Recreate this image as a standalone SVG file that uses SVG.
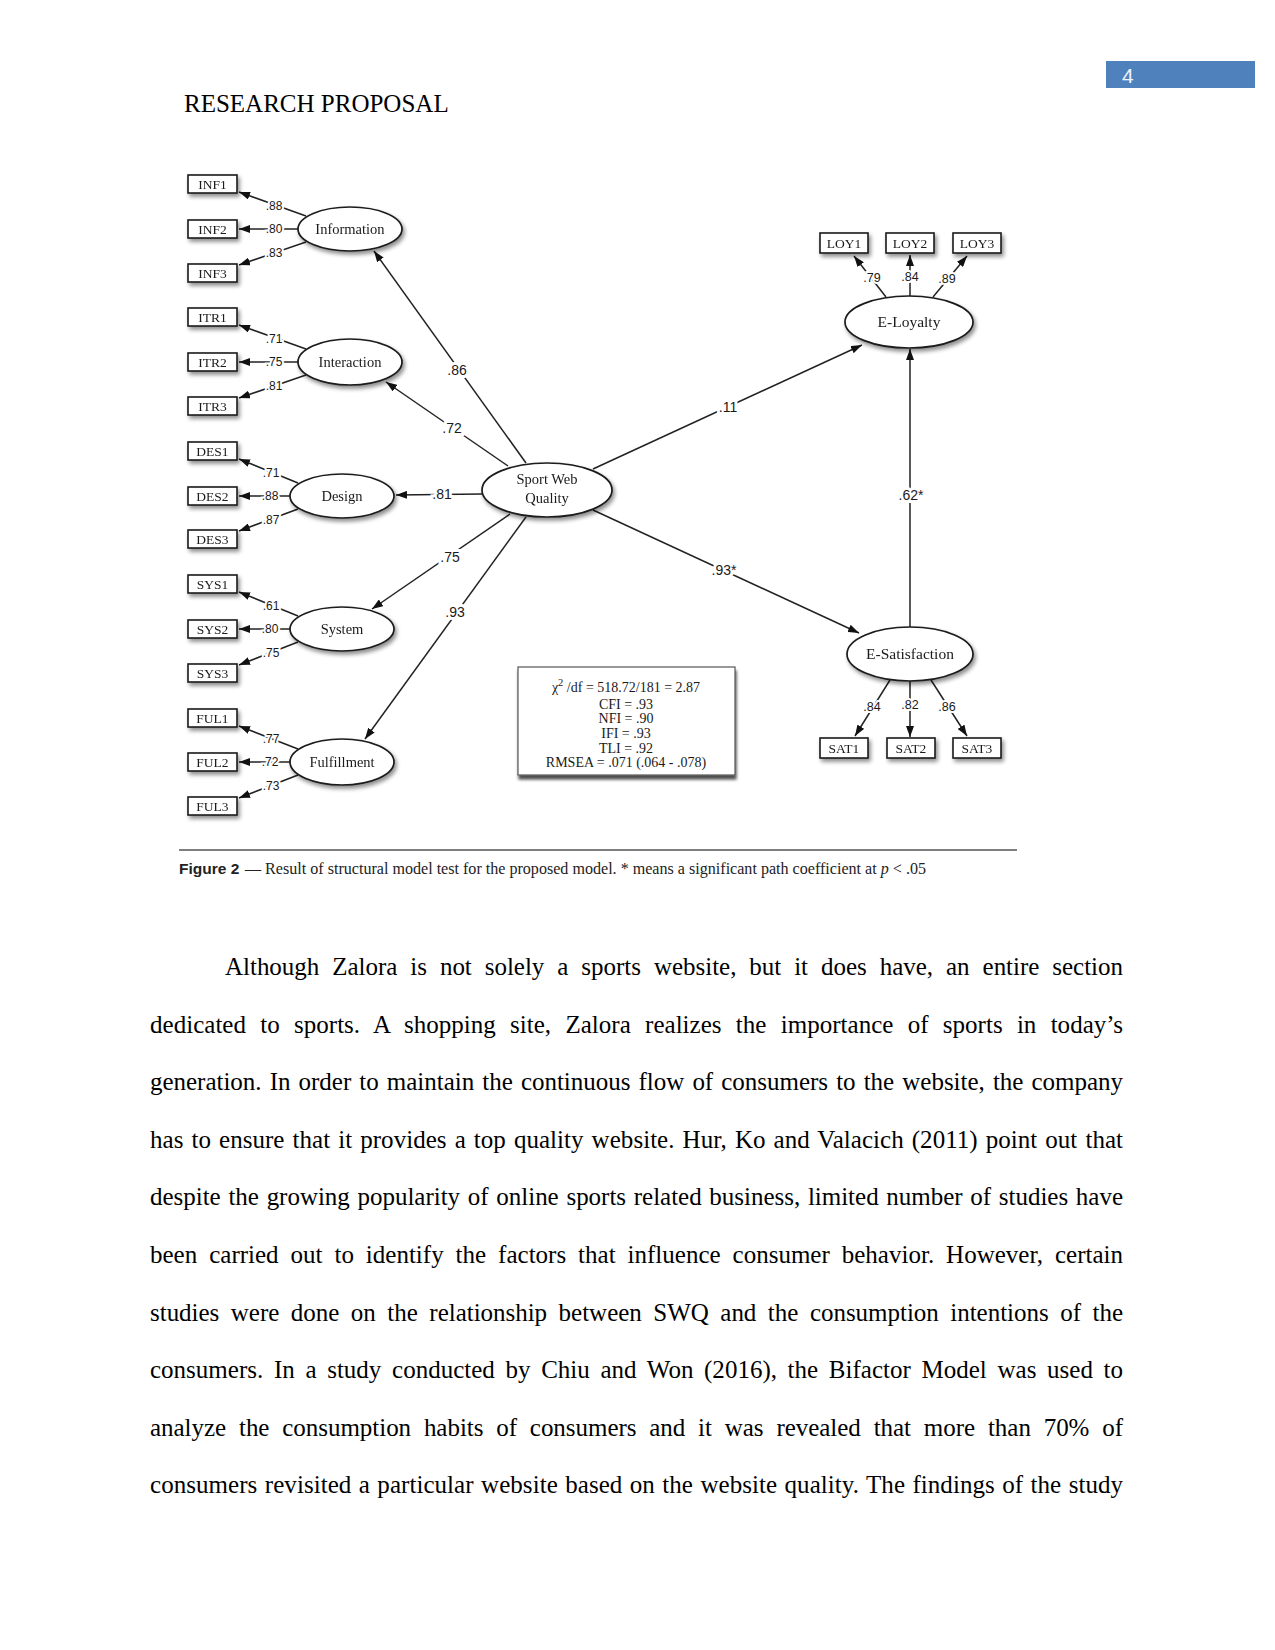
<svg xmlns="http://www.w3.org/2000/svg" width="1275" height="1650" viewBox="0 0 1275 1650">
<defs>
<style>
.ser{font-family:"Liberation Serif","Times New Roman",serif;}
.san{font-family:"Liberation Sans",Arial,sans-serif;}
.box{fill:#fff;stroke:#1a1a1a;stroke-width:1.6;}
.ell{fill:#fff;stroke:#1a1a1a;stroke-width:1.7;}
.bl{font-family:"Liberation Serif",serif;font-size:13.5px;fill:#1a1a1a;text-anchor:middle;}
.el{font-family:"Liberation Serif",serif;font-size:14.5px;fill:#1a1a1a;text-anchor:middle;}
.er{font-family:"Liberation Serif",serif;font-size:15.5px;fill:#1a1a1a;text-anchor:middle;}
.ln{fill:none;stroke:#222;stroke-width:1.5;}
.lab{font-family:"Liberation Sans",Arial,sans-serif;font-size:12px;fill:#1a1a1a;text-anchor:middle;stroke:#fff;stroke-width:4;paint-order:stroke;}
.labm{font-family:"Liberation Sans",Arial,sans-serif;font-size:14px;fill:#1a1a1a;text-anchor:middle;stroke:#fff;stroke-width:6;paint-order:stroke;}
.labr{font-family:"Liberation Sans",Arial,sans-serif;font-size:12.5px;fill:#1a1a1a;text-anchor:middle;stroke:#fff;stroke-width:4;paint-order:stroke;}
.body{font-family:"Liberation Serif","Times New Roman",serif;font-size:25px;fill:#000;}
.fit{font-family:"Liberation Serif",serif;font-size:14px;fill:#1a1a1a;text-anchor:middle;}
</style>
<marker id="ah" viewBox="0 0 11 8" refX="11" refY="4" markerWidth="11" markerHeight="8" markerUnits="userSpaceOnUse" orient="auto">
<path d="M0,0 L11,4 L0,8 z" fill="#111"/>
</marker>
<filter id="sh" x="-20%" y="-30%" width="150%" height="180%">
<feGaussianBlur in="SourceAlpha" stdDeviation="2"/>
<feOffset dx="2" dy="3"/>
<feComponentTransfer><feFuncA type="linear" slope="0.45"/></feComponentTransfer>
<feMerge><feMergeNode/><feMergeNode in="SourceGraphic"/></feMerge>
</filter>
<filter id="sh2" x="-10%" y="-10%" width="125%" height="130%">
<feGaussianBlur in="SourceAlpha" stdDeviation="1.5"/>
<feOffset dx="1" dy="4"/>
<feComponentTransfer><feFuncA type="linear" slope="0.7"/></feComponentTransfer>
<feMerge><feMergeNode/><feMergeNode in="SourceGraphic"/></feMerge>
</filter>
</defs>
<rect width="1275" height="1650" fill="#fff"/>

<!-- page header -->
<g id="page-number">
<rect x="1106" y="61" width="149" height="27" fill="#4f81bd"/>
<text x="1122" y="83" class="san" font-size="21" fill="#eef3fa">4</text>
</g>
<text id="running-head" x="184" y="112" class="ser" font-size="25" fill="#000">RESEARCH PROPOSAL</text>

<!-- connectors -->
<g id="connectors">
<!-- Information loadings -->
<path class="ln" d="M306,216 L239,192" marker-end="url(#ah)"/>
<path class="ln" d="M298,229 L239,229" marker-end="url(#ah)"/>
<path class="ln" d="M306,242 L239,265" marker-end="url(#ah)"/>
<text class="lab" x="274" y="210">.88</text>
<text class="lab" x="274" y="233">.80</text>
<text class="lab" x="274" y="257">.83</text>
<!-- Interaction loadings -->
<path class="ln" d="M306,349 L239,325" marker-end="url(#ah)"/>
<path class="ln" d="M298,362 L239,362" marker-end="url(#ah)"/>
<path class="ln" d="M306,375 L239,398" marker-end="url(#ah)"/>
<text class="lab" x="274" y="343">.71</text>
<text class="lab" x="274" y="366">.75</text>
<text class="lab" x="274" y="390">.81</text>
<!-- Design loadings -->
<path class="ln" d="M298,483 L239,459" marker-end="url(#ah)"/>
<path class="ln" d="M290,496 L239,496" marker-end="url(#ah)"/>
<path class="ln" d="M298,509 L239,531" marker-end="url(#ah)"/>
<text class="lab" x="271" y="477">.71</text>
<text class="lab" x="270" y="500">.88</text>
<text class="lab" x="271" y="524">.87</text>
<!-- System loadings -->
<path class="ln" d="M298,616 L239,592" marker-end="url(#ah)"/>
<path class="ln" d="M290,629 L239,629" marker-end="url(#ah)"/>
<path class="ln" d="M298,642 L239,665" marker-end="url(#ah)"/>
<text class="lab" x="271" y="610">.61</text>
<text class="lab" x="270" y="633">.80</text>
<text class="lab" x="271" y="657">.75</text>
<!-- Fulfillment loadings -->
<path class="ln" d="M298,749 L239,726" marker-end="url(#ah)"/>
<path class="ln" d="M290,762 L239,762" marker-end="url(#ah)"/>
<path class="ln" d="M298,775 L239,798" marker-end="url(#ah)"/>
<text class="lab" x="271" y="743">.77</text>
<text class="lab" x="270" y="766">.72</text>
<text class="lab" x="271" y="790">.73</text>

<!-- structural paths -->
<path class="ln" d="M526,463 L374,251" marker-end="url(#ah)"/>
<path class="ln" d="M508,466 L386,382" marker-end="url(#ah)"/>
<path class="ln" d="M482,494 L396,495" marker-end="url(#ah)"/>
<path class="ln" d="M510,514 L372,609" marker-end="url(#ah)"/>
<path class="ln" d="M526,517 L365,739" marker-end="url(#ah)"/>
<path class="ln" d="M593,469 L862,345" marker-end="url(#ah)"/>
<path class="ln" d="M593,510 L859,633" marker-end="url(#ah)"/>
<path class="ln" d="M910,627 L910,349" marker-end="url(#ah)"/>
<text class="labm" x="457" y="375">.86</text>
<text class="labm" x="452" y="433">.72</text>
<text class="labm" x="442" y="499">.81</text>
<text class="labm" x="450" y="562">.75</text>
<text class="labm" x="455" y="617">.93</text>
<text class="labm" x="728" y="412">.11</text>
<text class="labm" x="724" y="575">.93*</text>
<text class="labm" x="911" y="500">.62*</text>

<!-- E-Loyalty indicators -->
<path class="ln" d="M886,297 L854,256" marker-end="url(#ah)"/>
<path class="ln" d="M910,296 L910,255" marker-end="url(#ah)"/>
<path class="ln" d="M933,297 L967,256" marker-end="url(#ah)"/>
<text class="labr" x="872" y="282">.79</text>
<text class="labr" x="910" y="281">.84</text>
<text class="labr" x="947" y="283">.89</text>
<!-- E-Satisfaction indicators -->
<path class="ln" d="M890,680 L855,736" marker-end="url(#ah)"/>
<path class="ln" d="M910,681 L910,737" marker-end="url(#ah)"/>
<path class="ln" d="M931,680 L967,736" marker-end="url(#ah)"/>
<text class="labr" x="872" y="711">.84</text>
<text class="labr" x="910" y="709">.82</text>
<text class="labr" x="947" y="711">.86</text>
</g>

<!-- indicator boxes -->
<g id="INF1" filter="url(#sh)"><rect class="box" x="188" y="175" width="49" height="18"/><text class="bl" x="212.5" y="188.5">INF1</text></g>
<g id="INF2" filter="url(#sh)"><rect class="box" x="188" y="220" width="49" height="18"/><text class="bl" x="212.5" y="233.5">INF2</text></g>
<g id="INF3" filter="url(#sh)"><rect class="box" x="188" y="264" width="49" height="18"/><text class="bl" x="212.5" y="277.5">INF3</text></g>
<g id="ITR1" filter="url(#sh)"><rect class="box" x="188" y="308" width="49" height="18"/><text class="bl" x="212.5" y="321.5">ITR1</text></g>
<g id="ITR2" filter="url(#sh)"><rect class="box" x="188" y="353" width="49" height="18"/><text class="bl" x="212.5" y="366.5">ITR2</text></g>
<g id="ITR3" filter="url(#sh)"><rect class="box" x="188" y="397" width="49" height="18"/><text class="bl" x="212.5" y="410.5">ITR3</text></g>
<g id="DES1" filter="url(#sh)"><rect class="box" x="188" y="442" width="49" height="18"/><text class="bl" x="212.5" y="455.5">DES1</text></g>
<g id="DES2" filter="url(#sh)"><rect class="box" x="188" y="487" width="49" height="18"/><text class="bl" x="212.5" y="500.5">DES2</text></g>
<g id="DES3" filter="url(#sh)"><rect class="box" x="188" y="530" width="49" height="18"/><text class="bl" x="212.5" y="543.5">DES3</text></g>
<g id="SYS1" filter="url(#sh)"><rect class="box" x="188" y="575" width="49" height="18"/><text class="bl" x="212.5" y="588.5">SYS1</text></g>
<g id="SYS2" filter="url(#sh)"><rect class="box" x="188" y="620" width="49" height="18"/><text class="bl" x="212.5" y="633.5">SYS2</text></g>
<g id="SYS3" filter="url(#sh)"><rect class="box" x="188" y="664" width="49" height="18"/><text class="bl" x="212.5" y="677.5">SYS3</text></g>
<g id="FUL1" filter="url(#sh)"><rect class="box" x="188" y="709" width="49" height="18"/><text class="bl" x="212.5" y="722.5">FUL1</text></g>
<g id="FUL2" filter="url(#sh)"><rect class="box" x="188" y="753" width="49" height="18"/><text class="bl" x="212.5" y="766.5">FUL2</text></g>
<g id="FUL3" filter="url(#sh)"><rect class="box" x="188" y="797" width="49" height="18"/><text class="bl" x="212.5" y="810.5">FUL3</text></g>

<g id="LOY1" filter="url(#sh)"><rect class="box" x="820" y="233" width="48" height="20"/><text class="bl" x="844" y="247.5">LOY1</text></g>
<g id="LOY2" filter="url(#sh)"><rect class="box" x="886" y="233" width="48" height="20"/><text class="bl" x="910" y="247.5">LOY2</text></g>
<g id="LOY3" filter="url(#sh)"><rect class="box" x="953" y="233" width="48" height="20"/><text class="bl" x="977" y="247.5">LOY3</text></g>
<g id="SAT1" filter="url(#sh)"><rect class="box" x="820" y="738" width="48" height="20"/><text class="bl" x="844" y="752.5">SAT1</text></g>
<g id="SAT2" filter="url(#sh)"><rect class="box" x="887" y="738" width="48" height="20"/><text class="bl" x="911" y="752.5">SAT2</text></g>
<g id="SAT3" filter="url(#sh)"><rect class="box" x="953" y="738" width="48" height="20"/><text class="bl" x="977" y="752.5">SAT3</text></g>

<!-- latent factors -->
<g id="Information" filter="url(#sh)"><ellipse class="ell" cx="350" cy="229" rx="52" ry="22"/><text class="el" x="350" y="234">Information</text></g>
<g id="Interaction" filter="url(#sh)"><ellipse class="ell" cx="350" cy="362" rx="52" ry="23"/><text class="el" x="350" y="367">Interaction</text></g>
<g id="Design" filter="url(#sh)"><ellipse class="ell" cx="342" cy="496" rx="52" ry="22"/><text class="el" x="342" y="501">Design</text></g>
<g id="System" filter="url(#sh)"><ellipse class="ell" cx="342" cy="629" rx="52" ry="22"/><text class="el" x="342" y="634">System</text></g>
<g id="Fulfillment" filter="url(#sh)"><ellipse class="ell" cx="342" cy="762" rx="52" ry="23"/><text class="el" x="342" y="767">Fulfillment</text></g>
<g id="SportWebQuality" filter="url(#sh)"><ellipse class="ell" cx="547" cy="490" rx="65" ry="27"/><text class="el" x="547" y="484">Sport Web</text><text class="el" x="547" y="503">Quality</text></g>
<g id="E-Loyalty" filter="url(#sh)"><ellipse class="ell" cx="909" cy="322" rx="64" ry="26"/><text class="er" x="909" y="327">E-Loyalty</text></g>
<g id="E-Satisfaction" filter="url(#sh)"><ellipse class="ell" cx="910" cy="654" rx="63" ry="27"/><text class="er" x="910" y="659">E-Satisfaction</text></g>

<!-- fit indices -->
<g id="fit-box">
<rect x="518" y="667" width="217" height="108" fill="#fff" stroke="#555" stroke-width="1.2" filter="url(#sh2)"/>
<text class="fit" x="626" y="692">χ<tspan dy="-6" font-size="10.5">2</tspan><tspan dy="6"> /df = 518.72/181 = 2.87</tspan></text>
<text class="fit" x="626" y="709">CFI = .93</text>
<text class="fit" x="626" y="723">NFI = .90</text>
<text class="fit" x="626" y="738">IFI = .93</text>
<text class="fit" x="626" y="753">TLI = .92</text>
<text class="fit" x="626" y="767">RMSEA = .071 (.064 - .078)</text>
</g>

<!-- caption -->
<line x1="179" y1="850" x2="1017" y2="850" stroke="#555" stroke-width="1.5"/>
<text x="179" y="874" class="san" font-size="15.5" font-weight="bold" fill="#222">Figure 2</text>
<text x="245" y="874" class="ser" font-size="16" fill="#222" textLength="681" lengthAdjust="spacingAndGlyphs">— Result of structural model test for the proposed model. * means a significant path coefficient at <tspan font-style="italic">p</tspan> &lt; .05</text>

<!-- body text -->
<g id="body-text" class="body">
<text x="225" y="975" word-spacing="6.75" textLength="898" lengthAdjust="spacing">Although Zalora is not solely a sports website, but it does have, an entire section</text>
<text x="150" y="1032.6" word-spacing="7.97" textLength="973" lengthAdjust="spacing">dedicated to sports. A shopping site, Zalora realizes the importance of sports in today’s</text>
<text x="150" y="1090.2" word-spacing="1.9" textLength="973" lengthAdjust="spacing">generation. In order to maintain the continuous flow of consumers to the website, the company</text>
<text x="150" y="1147.8" word-spacing="1.76" textLength="973" lengthAdjust="spacing">has to ensure that it provides a top quality website. Hur, Ko and Valacich (2011) point out that</text>
<text x="150" y="1205.4" word-spacing="1.5" textLength="973" lengthAdjust="spacing">despite the growing popularity of online sports related business, limited number of studies have</text>
<text x="150" y="1263" word-spacing="5.7" textLength="973" lengthAdjust="spacing">been carried out to identify the factors that influence consumer behavior. However, certain</text>
<text x="150" y="1320.6" word-spacing="5.3" textLength="973" lengthAdjust="spacing">studies were done on the relationship between SWQ and the consumption intentions of the</text>
<text x="150" y="1378.2" word-spacing="4.4" textLength="973" lengthAdjust="spacing">consumers. In a study conducted by Chiu and Won (2016), the Bifactor Model was used to</text>
<text x="150" y="1435.8" word-spacing="6.6" textLength="973" lengthAdjust="spacing">analyze the consumption habits of consumers and it was revealed that more than 70% of</text>
<text x="150" y="1493.4" word-spacing="1.1" textLength="973" lengthAdjust="spacing">consumers revisited a particular website based on the website quality. The findings of the study</text>
</g>
</svg>
